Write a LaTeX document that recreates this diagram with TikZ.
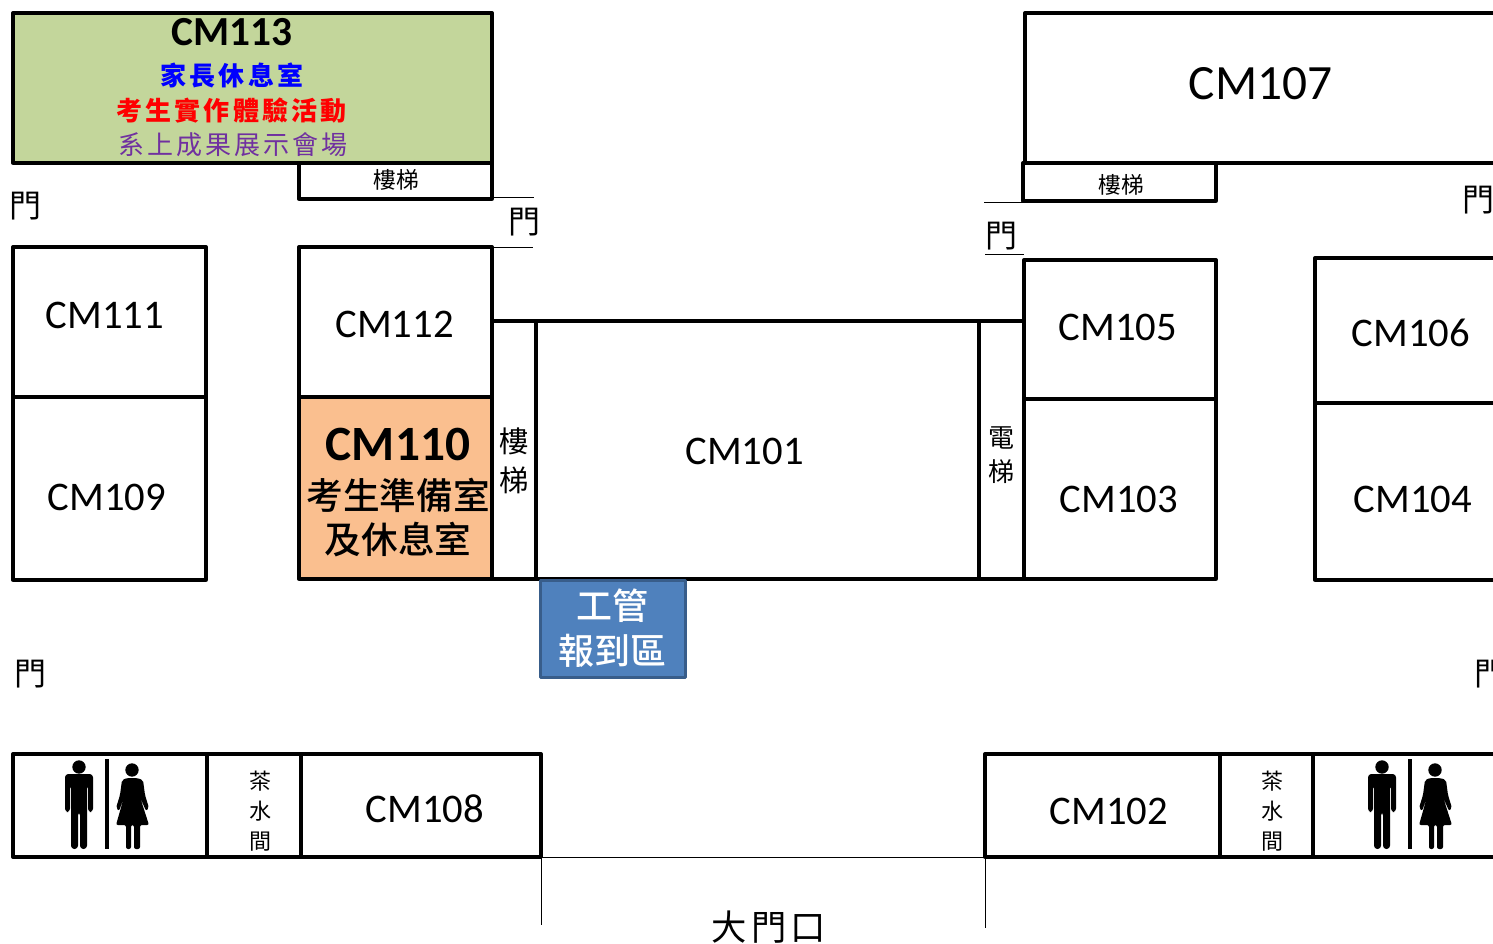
\documentclass[tikz,border=0pt]{standalone}
\usepackage{fontspec}
\setmainfont{Carlito}
\newfontfamily\cjk{Noto Sans CJK TC}
\newfontfamily\cjkmid{Noto Sans CJK TC Medium}
\newfontfamily\cjkwide[LetterSpace=12]{Noto Sans CJK TC}
\definecolor{roomgreen}{RGB}{195,214,155}
\definecolor{roomorange}{RGB}{250,191,143}
\definecolor{deskblue}{RGB}{79,129,189}
\definecolor{deskedge}{RGB}{56,93,138}
\definecolor{showpurple}{RGB}{112,48,160}
\tikzset{every picture/.style={line width=0.75pt}}
\tikzset{
  wall/.style={draw=black,line width=2.5pt,line join=round},
  doorline/.style={line width=0.75pt},
  roomlabel/.style={inner sep=0pt,font=\fontsize{30.5}{36}\selectfont},
  doorlabel/.style={inner sep=0pt,font=\cjk\fontsize{24}{28}\selectfont},
  teaword/.style={inner sep=0pt,align=center,font=\cjk\fontsize{16.5}{22.5}\selectfont}
}
\newcommand{\drawrestroom}[1]{
  \begin{scope}[shift={(#1,0)}]
    % man
    \fill (79,767) circle [x radius=6.7, y radius=6.7];
    \fill[rounded corners=2.5pt] (65,812) -- (65,774) -- (93,774) -- (93,812) -- (88,812) -- (88,785) -- (87,785) -- (87,849) -- (80,849) -- (80,812) -- (78,812) -- (78,849) -- (71,849) -- (71,785) -- (70,785) -- (70,812) -- cycle;
    % divider
    \fill (104.6,759) rectangle (108.6,849);
    % woman
    \fill (132,770) circle [x radius=6.7, y radius=6.7];
    \fill[rounded corners=1.5pt] (127,778) -- (137,778) -- (143,780) -- (145,795) -- (149,808) -- (146,811) -- (140,797) -- (149,825) -- (140,825) -- (140,849) -- (134,849) -- (134,825) -- (131,825) -- (131,849) -- (126,849) -- (126,825) -- (116,825) -- (124,797) -- (119,811) -- (116,808) -- (120,795) -- (122,780) -- cycle;
  \end{scope}
}

\begin{document}
\begin{tikzpicture}[x=0.75pt,y=0.75pt,yscale=-1,xscale=1]
\clip (0,0) rectangle (1493,944);

%Shape: Rectangle, upper left
\draw[wall,fill=roomgreen] (13,13) rectangle (492,163);
\draw[wall] (299,163) rectangle (492,199);
\draw[wall] (13,247) rectangle (206,397);
\draw[wall] (13,397) rectangle (206,580);
\draw[wall] (299,247) rectangle (492,397);
\draw[wall,fill=roomorange] (299,397) rectangle (492,579);
%Shape: Rectangle, middle
\draw[wall] (492,321) rectangle (536,579);
\draw[wall] (536,321) rectangle (979,579);
\draw[wall] (979,321) rectangle (1024,579);
%Shape: Rectangle, upper right
\draw[wall] (1025,13) rectangle (1510,163);
\draw[wall] (1023,163) rectangle (1216,201);
\draw[wall] (1024,260) rectangle (1216,399);
\draw[wall] (1024,399) rectangle (1216,579);
\draw[wall] (1315,258) rectangle (1510,403);
\draw[wall] (1315,403) rectangle (1510,580);
%Shape: Rectangle, bottom row
\draw[wall] (13,754) rectangle (207,857);
\draw[wall] (207,754) rectangle (301,857);
\draw[wall] (301,754) rectangle (541,857);
\draw[wall] (985,754) rectangle (1220,857);
\draw[wall] (1220,754) rectangle (1313,857);
\draw[wall] (1313,754) rectangle (1510,857);
%Shape: Rectangle, desk
\draw[draw=deskedge,line width=2.25pt,line join=round,fill=deskblue] (540.5,581) rectangle (685.5,677.5);

%Straight Lines
\draw[doorline] (492,198) -- (534,198);
\draw[doorline] (492,247.5) -- (533,247.5);
\draw[doorline] (984,203) -- (1023,203);
\draw[doorline] (985,254.5) -- (1024,254.5);
\draw[doorline] (541,857) -- (985,857);
\draw[doorline] (541,857) -- (541,925);
\draw[doorline] (985,857) -- (985,928);

%Restrooms
\drawrestroom{0}
\drawrestroom{1303}

% Text Node
\node[inner sep=0pt,font=\bfseries\fontsize{31}{36}\selectfont] (cm113) at (232,32.5) {CM113};
\node[inner sep=0pt,text=blue,font=\cjkwide\bfseries\fontsize{19.5}{24}\selectfont] (parents) at (232,75.5) {家長休息室};
\node[inner sep=0pt,text=red,font=\cjkwide\bfseries\fontsize{19.5}{24}\selectfont] (handson) at (231.5,110.5) {考生實作體驗活動};
\node[inner sep=0pt,text=showpurple,font=\cjkwide\fontsize{19.5}{24}\selectfont] (showcase) at (233,144.5) {系上成果展示會場};
\node[inner sep=0pt,font=\cjk\fontsize{17}{20}\selectfont] (stairsa) at (396,180) {樓梯};
\node[doorlabel] (doora) at (26,206) {門};
\node[doorlabel] (doorb) at (524,222) {門};
\node[doorlabel] (doorc) at (1001,236) {門};
\node[doorlabel] (doord) at (1478,200) {門};
\node[doorlabel] (doore) at (31,674) {門};
\node[doorlabel] (doorf) at (1490,674) {門};
\node[roomlabel] (cm111) at (105,315) {CM111};
\node[roomlabel] (cm109) at (107,497) {CM109};
\node[roomlabel] (cm112) at (394.5,324) {CM112};
\node[inner sep=0pt,font=\bfseries\fontsize{37}{42}\selectfont] (cm110) at (398,444.5) {CM110};
\node[inner sep=0pt,font=\cjkmid\fontsize{27.5}{33}\selectfont] (waiting) at (398,495) {考生準備室};
\node[inner sep=0pt,font=\cjkmid\fontsize{27.5}{33}\selectfont] (lounge) at (398,540) {及休息室};
\node[inner sep=0pt,align=center,font=\cjk\fontsize{22}{29}\selectfont] (stairsb) at (514,461) {樓\\梯};
\node[roomlabel] (cm101) at (744.5,451) {CM101};
\node[inner sep=0pt,align=center,font=\cjk\fontsize{19.5}{25.5}\selectfont] (lift) at (1001,455) {電\\梯};
\node[roomlabel] (cm105) at (1118,327) {CM105};
\node[roomlabel] (cm103) at (1119,499) {CM103};
\node[roomlabel] (cm106) at (1411,333) {CM106};
\node[roomlabel] (cm104) at (1413,499) {CM104};
\node[inner sep=0pt,font=\fontsize{37}{42}\selectfont] (cm107) at (1260.5,83.5) {CM107};
\node[inner sep=0pt,font=\cjk\fontsize{17}{20}\selectfont] (stairsc) at (1121,185) {樓梯};
\node[inner sep=0pt,text=white,font=\cjkmid\fontsize{27}{32}\selectfont] (deska) at (612,606) {工管};
\node[inner sep=0pt,text=white,font=\cjkmid\fontsize{27}{32}\selectfont] (deskb) at (612,651) {報到區};
\node[roomlabel] (cm108) at (425,809) {CM108};
\node[roomlabel] (cm102) at (1109,811) {CM102};
\node[teaword] (teaa) at (260,811) {茶\\水\\間};
\node[teaword] (teab) at (1272,811) {茶\\水\\間};
\node[inner sep=0pt,font=\cjkwide\fontsize{26.5}{30}\selectfont] (gate) at (769,927) {大門口};

\end{tikzpicture}
\end{document}
